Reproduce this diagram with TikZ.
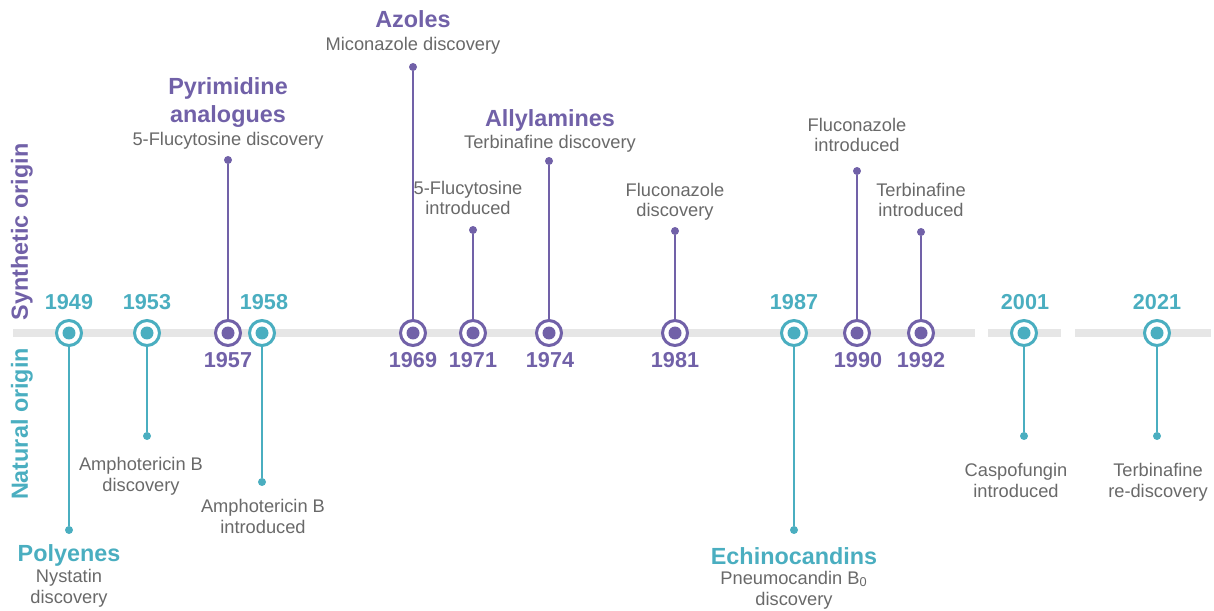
\documentclass[tikz,border=0pt]{standalone}
\usepackage{fontspec}
\setmainfont{Liberation Sans}
\usetikzlibrary{positioning}
\definecolor{nat}{RGB}{74,174,192}
\definecolor{syn}{RGB}{113,97,168}
\definecolor{txt}{RGB}{105,105,105}
\definecolor{barc}{RGB}{230,230,230}

\begin{document}
\begin{tikzpicture}[x=0.02cm, y=-0.02cm]
        \tikzstyle{mk}=[draw, circle, fill=white, line width=1.7pt, minimum size=0.5cm, inner sep=0pt]
        \tikzstyle{nmk}=[mk, draw=nat, path picture={\fill[nat] (path picture bounding box.center) circle (0.13cm);}]
        \tikzstyle{smk}=[mk, draw=syn, path picture={\fill[syn] (path picture bounding box.center) circle (0.13cm);}]
        \tikzstyle{tip}=[circle, inner sep=0pt, minimum size=0.16cm]
        \tikzstyle{stem}=[line width=1.4pt]
        \tikzstyle{yr}=[font=\fontsize{12.3}{14}\selectfont\bfseries, anchor=base]
        \tikzstyle{ttl}=[font=\fontsize{13.3}{16}\selectfont\bfseries, anchor=base]
        \tikzstyle{dsc}=[font=\fontsize{10.4}{11.9}\selectfont, text=txt, align=center, anchor=base]

        \useasboundingbox (0,0) rectangle (1214,611);

        % side labels
        \node (syn) [ttl, text=syn, rotate=90, anchor=center] at (22,232) {Synthetic origin};
        \node (nat) [ttl, text=nat, rotate=90, anchor=center] at (22,424) {Natural origin};

        % timeline bar
        \coordinate (b0) at (13,333);
        \coordinate (b1) at (975,333);
        \coordinate (b2) at (988,333);
        \coordinate (b3) at (1061,333);
        \coordinate (b4) at (1075,333);
        \coordinate (b5) at (1211,333);
        \draw[barc, line width=4pt] (b0) -- (b1) (b2) -- (b3) (b4) -- (b5);

        % markers
        \node (m49) [nmk] at (69,333) {};
        \node (m53) [nmk] at (147,333) {};
        \node (m57) [smk] at (228,333) {};
        \node (m58) [nmk] at (262,333) {};
        \node (m69) [smk] at (413,333) {};
        \node (m71) [smk] at (473,333) {};
        \node (m74) [smk] at (549,333) {};
        \node (m81) [smk] at (675,333) {};
        \node (m87) [nmk] at (794,333) {};
        \node (m90) [smk] at (857,333) {};
        \node (m92) [smk] at (921,333) {};
        \node (m01) [nmk] at (1024,333) {};
        \node (m21) [nmk] at (1157,333) {};

        % stem ends
        \node (d49) [tip, fill=nat] at (69,530) {};
        \node (d53) [tip, fill=nat] at (147,436) {};
        \node (d57) [tip, fill=syn] at (228,160) {};
        \node (d58) [tip, fill=nat] at (262,482) {};
        \node (d69) [tip, fill=syn] at (413,67) {};
        \node (d71) [tip, fill=syn] at (473,230) {};
        \node (d74) [tip, fill=syn] at (549,161) {};
        \node (d81) [tip, fill=syn] at (675,231) {};
        \node (d87) [tip, fill=nat] at (794,530) {};
        \node (d90) [tip, fill=syn] at (857,171) {};
        \node (d92) [tip, fill=syn] at (921,232) {};
        \node (d01) [tip, fill=nat] at (1024,436) {};
        \node (d21) [tip, fill=nat] at (1157,436) {};

        \draw[stem, nat] (m49) -- (d49) (m53) -- (d53) (m58) -- (d58)
            (m87) -- (d87) (m01) -- (d01) (m21) -- (d21);
        \draw[stem, syn] (m57) -- (d57) (m69) -- (d69) (m71) -- (d71)
            (m74) -- (d74) (m81) -- (d81) (m90) -- (d90) (m92) -- (d92);

        % years
        \node (y49) [yr, text=nat] at (69,310) {1949};
        \node (y53) [yr, text=nat] at (147,310) {1953};
        \node (y57) [yr, text=syn] at (228,367) {1957};
        \node (y58) [yr, text=nat] at (264,310) {1958};
        \node (y69) [yr, text=syn] at (413,367) {1969};
        \node (y71) [yr, text=syn] at (473,367) {1971};
        \node (y74) [yr, text=syn] at (550,367) {1974};
        \node (y81) [yr, text=syn] at (675,367) {1981};
        \node (y87) [yr, text=nat] at (794,310) {1987};
        \node (y90) [yr, text=syn] at (858,367) {1990};
        \node (y92) [yr, text=syn] at (921,367) {1992};
        \node (y01) [yr, text=nat] at (1025,310) {2001};
        \node (y21) [yr, text=nat] at (1157,310) {2021};

        % classes and events (two-line texts sit on their last baseline)
        \node (t49) [ttl, text=nat] at (69,561) {Polyenes};
        \node (e49) [dsc] at (69,603) {Nystatin\\discovery};
        \node (e53) [dsc] at (141,491) {Amphotericin B\\discovery};
        \node (t57) [ttl, text=syn] at (228,95) {Pyrimidine};
        \node (u57) [ttl, text=syn] at (228,123) {analogues};
        \node (e57) [dsc] at (228,146) {5-Flucytosine discovery};
        \node (e58) [dsc] at (263,533) {Amphotericin B\\introduced};
        \node (t69) [ttl, text=syn] at (413,28) {Azoles};
        \node (e69) [dsc] at (413,51) {Miconazole discovery};
        \node (e71) [dsc] at (468,215) {5-Flucytosine\\introduced};
        \node (t74) [ttl, text=syn] at (550,127) {Allylamines};
        \node (e74) [dsc] at (550,149) {Terbinafine discovery};
        \node (e81) [dsc] at (675,217) {Fluconazole\\discovery};
        \node (t87) [ttl, text=nat] at (794,564) {Echinocandins};
        \node (e87) [dsc] at (794,605) {Pneumocandin B\textsubscript{0}\\discovery};
        \node (e90) [dsc] at (857,152) {Fluconazole\\introduced};
        \node (e92) [dsc] at (921,217) {Terbinafine\\introduced};
        \node (e01) [dsc] at (1016,497) {Caspofungin\\introduced};
        \node (e21) [dsc] at (1158,497) {Terbinafine\\re-discovery};
\end{tikzpicture}
\end{document}
